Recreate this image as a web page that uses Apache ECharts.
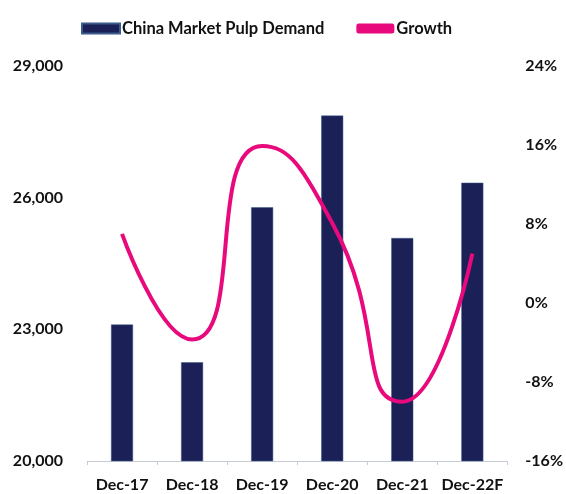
<!DOCTYPE html>
<html>
<head>
<meta charset="utf-8">
<script src="https://cdn.jsdelivr.net/npm/echarts@6/dist/echarts.min.js"></script>
<style>
html,body{margin:0;padding:0;background:#fff;}
#chart{width:566px;height:494px;}
</style>
</head>
<body>
<div id="chart"></div>
<script>
var categories = ['Dec-17', 'Dec-18', 'Dec-19', 'Dec-20', 'Dec-21', 'Dec-22F'];
var demand = [23110, 22250, 25780, 27870, 25080, 26340];
var growth = [7.0, -3.7, 15.9, 8.1, -10.0, 5.0];
var leftTicks = [20000, 23000, 26000, 29000];
var rightTicks = [-16, -8, 0, 8, 16, 24];

var FONT = 'Lato';
var chart = echarts.init(document.getElementById('chart'), null, {renderer: 'canvas'});
chart.setOption({
  animation: false,
  backgroundColor: '#ffffff',
  textStyle: {fontFamily: FONT},
  legend: {
    top: 15,
    left: 76,
    itemGap: 32,
    itemWidth: 38,
    itemHeight: 10,
    textStyle: {fontFamily: FONT, fontWeight: 'bold', fontSize: 16.5, color: '#111111', padding: [0, 0, 0, -3]},
    data: [
      {name: 'China Market Pulp Demand', icon: 'rect'},
      {name: 'Growth', icon: 'roundRect', itemStyle: {color: '#e8097c'}}
    ]
  },
  grid: {left: 87, right: 58, top: 66, bottom: 33, containLabel: false},
  xAxis: {
    type: 'category',
    data: categories,
    axisLine: {onZero: false, lineStyle: {color: '#c5ccd6', width: 1}},
    axisTick: {show: true, length: 4, lineStyle: {color: '#c5ccd6'}},
    axisLabel: {interval: 0, fontFamily: FONT, fontWeight: 'bold', fontSize: 16, color: '#111111', margin: 16}
  },
  yAxis: [
    {
      type: 'value',
      min: leftTicks[0],
      max: leftTicks[leftTicks.length - 1],
      interval: 3000,
      splitLine: {show: false},
      axisLine: {show: false},
      axisTick: {show: false},
      axisLabel: {
        fontFamily: FONT, fontWeight: 'bold', fontSize: 16, color: '#111111', margin: 24,
        formatter: function (v) { return v.toLocaleString('en-US'); }
      }
    },
    {
      type: 'value',
      min: rightTicks[0],
      max: rightTicks[rightTicks.length - 1],
      interval: 8,
      splitLine: {show: false},
      axisLine: {show: false},
      axisTick: {show: false},
      axisLabel: {
        fontFamily: FONT, fontWeight: 'bold', fontSize: 16, color: '#111111', margin: 18,
        formatter: function (v) { return v + '%'; }
      }
    }
  ],
  series: [
    {
      name: 'China Market Pulp Demand',
      type: 'bar',
      data: demand,
      yAxisIndex: 0,
      barWidth: 22,
      itemStyle: {color: '#1b2157', borderColor: '#3d5b8a', borderWidth: 0.5}
    },
    {
      name: 'Growth',
      type: 'line',
      data: growth,
      yAxisIndex: 1,
      smooth: 0.6,
      showSymbol: false,
      symbol: 'none',
      lineStyle: {color: '#e8097c', width: 4},
      itemStyle: {color: '#e8097c'}
    }
  ]
});
</script>
</body>
</html>
